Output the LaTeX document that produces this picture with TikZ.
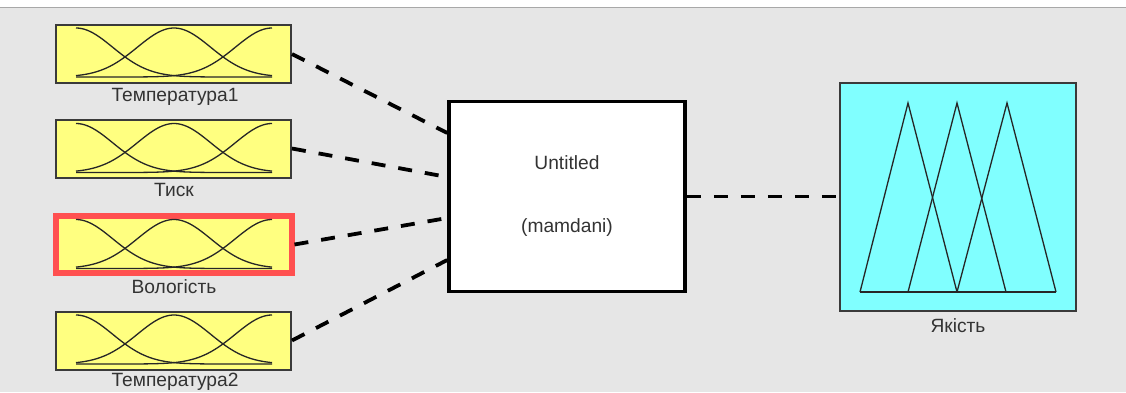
\documentclass[tikz,border=0pt]{standalone}
\usepackage{fontspec}
\setmainfont{Liberation Sans}
\definecolor{bg}{HTML}{E6E6E6}
\definecolor{topline}{HTML}{A8A8A8}
\definecolor{mfyellow}{HTML}{FFFF80}
\definecolor{mfcyan}{HTML}{80FFFF}
\definecolor{hired}{HTML}{FF5050}
\definecolor{bordergray}{HTML}{3A3A3A}
\definecolor{txtgray}{HTML}{333333}
\newcommand\gaussrow[1]{%
  \foreach \c in {76,174,272}{%
    \draw[mfline] plot[domain=76:272,samples=70,smooth] ({\x},{#1-49*exp(-(((\x-\c)/98)^2)/0.2806)});
  }%
}
\begin{document}
\begin{tikzpicture}[x=1pt,y=-1pt,
  inbox/.style={draw=bordergray,line width=2pt,fill=mfyellow,minimum width=235pt,minimum height=58pt,inner sep=0pt},
  fisbox/.style={draw=black,line width=3.5pt,fill=white,minimum width=236pt,minimum height=190pt,inner sep=0pt},
  outbox/.style={draw=bordergray,line width=2pt,fill=mfcyan,minimum width=236pt,minimum height=228pt,inner sep=0pt},
  lbl/.style={text=txtgray,font=\fontsize{19.2}{21}\selectfont,inner sep=0pt},
  mfline/.style={draw=black!85,line width=1.3pt},
  conn/.style={draw=black,line width=3.8pt,dash pattern=on 14pt off 13pt}]
\useasboundingbox (0,0) rectangle (1126,392);
\fill[white] (0,0) rectangle (1126,392);
\fill[bg] (0,8) rectangle (1126,392);
\draw[topline,line width=1.5pt] (0,7.5) -- (1126,7.5);
% input boxes
\node[inbox] (t1) at (173.5,54) {};
\node[inbox] (ti) at (173.5,148.5) {};
\node[inbox,draw=hired,line width=6pt,minimum width=235.5pt,minimum height=57pt] (vo) at (173.75,244.5) {};
\node[inbox] (t2) at (173.5,340.5) {};
\gaussrow{77}
\gaussrow{172.5}
\gaussrow{268.5}
\gaussrow{364}
\node[lbl] (l1) at (175,97) {Температура1};
\node[lbl] (l2) at (174,190) {Тиск};
\node[lbl] (l3) at (174,287) {Вологість};
\node[lbl] (l4) at (175,382) {Температура2};
% FIS box
\node[fisbox] (fis) at (567,196.5) {};
\node[lbl] (u) at (567,163) {Untitled};
\node[lbl] (m) at (567,228) {(mamdani)};
% output box
\node[outbox] (q) at (958,196.5) {};
\draw[mfline,line join=miter] (860,292) -- (908,103) -- (957,292);
\draw[mfline,line join=miter] (908,292) -- (957,103) -- (1006,292);
\draw[mfline,line join=miter] (957,292) -- (1007,103) -- (1056,292);
\draw[mfline] (860,292) -- (1056,292);
\node[lbl] (lq) at (958,326) {Якість};
% connectors
\draw[conn] (t1.east) -- ([yshift=63.5pt]fis.west);
\draw[conn] (ti.east) -- ([yshift=19.5pt]fis.west);
\draw[conn] (vo.east) -- ([yshift=-21.5pt]fis.west);
\draw[conn] (t2.east) -- ([yshift=-63.5pt]fis.west);
\draw[conn] (fis.east) -- (q.west);
\end{tikzpicture}
\end{document}
